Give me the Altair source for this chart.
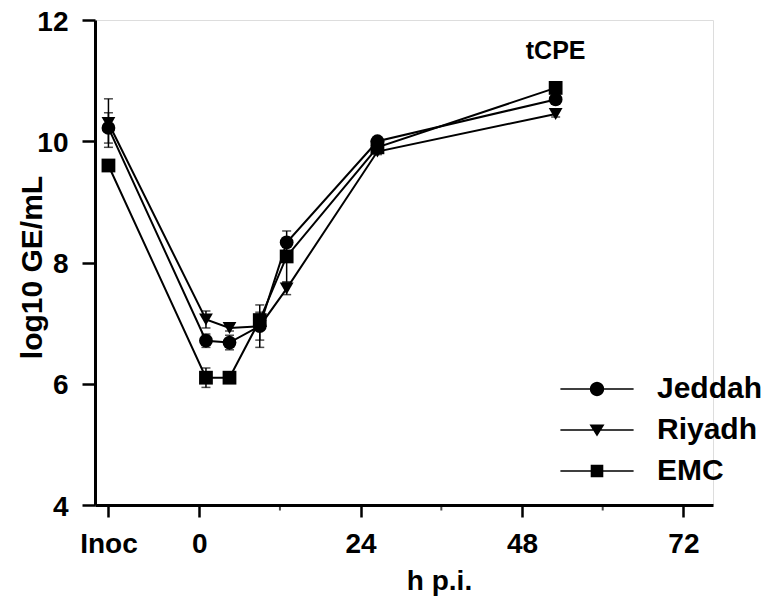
import math
import altair as alt
import pandas as pd

# ---- data ----
series = ["Jeddah", "Riyadh", "EMC"]
times = [-13.5, 1, 4.5, 9, 13, 26.5, 53]          # first point is the "Inoc" sample
jeddah = [10.22, 6.71, 6.68, 6.95, 8.33, 10.00, 10.69]
riyadh = [10.30, 7.06, 6.92, 6.95, 7.57, 9.83, 10.45]
emc = [9.60, 6.10, 6.10, 7.05, 8.10, 9.90, 10.88]
jeddah_err = [0.25, 0.11, 0.12, 0.23, 0.08, 0.05, 0.05]
riyadh_err = [0.40, 0.14, 0.05, 0.35, 0.10, 0.05, 0.05]
emc_err = [0.05, 0.16, 0.05, 0.10, 0.42, 0.05, 0.05]

x_tick_values = [-13.5, 0, 24, 48, 72]
x_tick_labels = ["Inoc", "0", "24", "48", "72"]
x_minor_ticks = [12, 36, 60]
y_tick_values = [4, 6, 8, 10, 12]

ann_label = ["tCPE"]
ann_x = [53]
ann_y = [11.36]

rows = []
for name, vals, errs in [("Jeddah", jeddah, jeddah_err), ("Riyadh", riyadh, riyadh_err), ("EMC", emc, emc_err)]:
    for t, v, e in zip(times, vals, errs):
        rows.append({"series": name, "t": t, "v": v, "lo": v - e, "hi": v + e})
df = pd.DataFrame(rows)
ann = pd.DataFrame({"label": ann_label, "x": ann_x, "y": ann_y})
minor = pd.DataFrame({"t": x_minor_ticks})

FONT = "Liberation Sans"

label_expr = " : ".join(
    [f"datum.value == {v} ? '{l}'" for v, l in zip(x_tick_values, x_tick_labels)]
) + " : datum.label"

xscale = alt.Scale(domain=[-15.5, 76.4], nice=False, zero=False)
yscale = alt.Scale(domain=[4, 12], nice=False, zero=False)

xaxis = alt.Axis(
    values=x_tick_values, labelExpr=label_expr, title="h p.i.",
    grid=False, domainColor="black", domainWidth=3, tickColor="black", tickWidth=2.5,
    tickSize=12, labelFontSize=28, labelFont=FONT, labelFontWeight="bold", labelColor="black",
    labelPadding=13, titleFontSize=28, titleFont=FONT, titleFontWeight="bold", titleColor="black",
    titleX=344, titleY=84, titleBaseline="alphabetic", titleAlign="center",
    labelFlush=False, labelOverlap=False,
)
yaxis = alt.Axis(
    values=y_tick_values, format="d", title="log10 GE/mL",
    grid=False, domainColor="black", domainWidth=3, tickColor="black", tickWidth=2.5,
    tickSize=13, labelFontSize=28, labelFont=FONT, labelFontWeight="bold", labelColor="black",
    labelPadding=14, labelOffset=2,
    titleFontSize=30, titleFont=FONT, titleFontWeight="bold", titleColor="black",
    titleX=-54, titleY=247, titleBaseline="alphabetic", titleAlign="center", titleAngle=-90,
    labelFlush=False,
)

base = alt.Chart(df)

lines = base.mark_line(color="black", strokeWidth=2).encode(
    x=alt.X("t:Q", scale=xscale, axis=xaxis),
    y=alt.Y("v:Q", scale=yscale, axis=yaxis),
    detail="series:N",
    order="t:Q",
)

bars = base.mark_rule(color="black", strokeWidth=1.5).encode(
    x="t:Q", y="lo:Q", y2="hi:Q"
)
cap_lo = base.mark_tick(color="black", orient="horizontal", size=9, thickness=1.5).encode(
    x="t:Q", y="lo:Q"
)
cap_hi = base.mark_tick(color="black", orient="horizontal", size=9, thickness=1.5).encode(
    x="t:Q", y="hi:Q"
)

points = base.mark_point(filled=True, color="black", opacity=1, size=190).encode(
    x="t:Q", y="v:Q",
    shape=alt.Shape("series:N", scale=alt.Scale(domain=series, range=["circle", "triangle-down", "square"]),
                    legend=None),
)

minor_ticks = alt.Chart(minor).mark_tick(
    color="black", orient="vertical", size=5, thickness=2, yOffset=3
).encode(x="t:Q", y=alt.datum(4))


# legend symbols: a thin filled bar through the marker (unit = sqrt(symbolSize)/2 px)
def poly_circle(r, n=20):
    pts = [(r * math.cos(2 * math.pi * k / n), r * math.sin(2 * math.pi * k / n)) for k in range(n)]
    return "M" + "L".join(f"{x:.3f},{y:.3f}" for x, y in pts) + "Z"


seg = "M-6.1,-0.12H6.1V0.12H-6.1Z"
leg_paths = [
    seg + poly_circle(1.2),
    seg + "M-1.25,-0.9L1.25,-0.9L0,1.1Z",
    seg + "M-1.05,-1.05H1.05V1.05H-1.05Z",
]

legend = alt.Legend(
    title=None, orient="none", legendX=487, legendY=354, padding=0,
    symbolSize=144, rowPadding=11, labelOffset=45,
    labelFontSize=30, labelFont=FONT, labelFontWeight="bold", labelColor="black",
    symbolFillColor="black", symbolStrokeColor="black", symbolStrokeWidth=2, symbolOpacity=1,
)

legend_layer = base.mark_point(
    filled=True, fill="black", stroke="black", strokeWidth=2, opacity=0, size=144
).encode(
    x="t:Q", y="v:Q",
    shape=alt.Shape("series:N", scale=alt.Scale(domain=series, range=leg_paths), legend=legend),
)

text = alt.Chart(ann).mark_text(
    font=FONT, fontWeight="bold", fontSize=25, color="black", baseline="alphabetic", align="center"
).encode(x="x:Q", y="y:Q", text="label:N")

chart = alt.layer(lines, bars, cap_lo, cap_hi, points, minor_ticks, legend_layer, text).resolve_scale(
    shape="independent"
).properties(
    width=618, height=485,
    autosize=alt.AutoSizeParams(type="none"),
    padding={"left": 87, "top": 12, "right": 58, "bottom": 92},
).configure_view(stroke=None).configure(font=FONT)

chart.save("out.html", embed_options={"renderer": "svg", "actions": False})
